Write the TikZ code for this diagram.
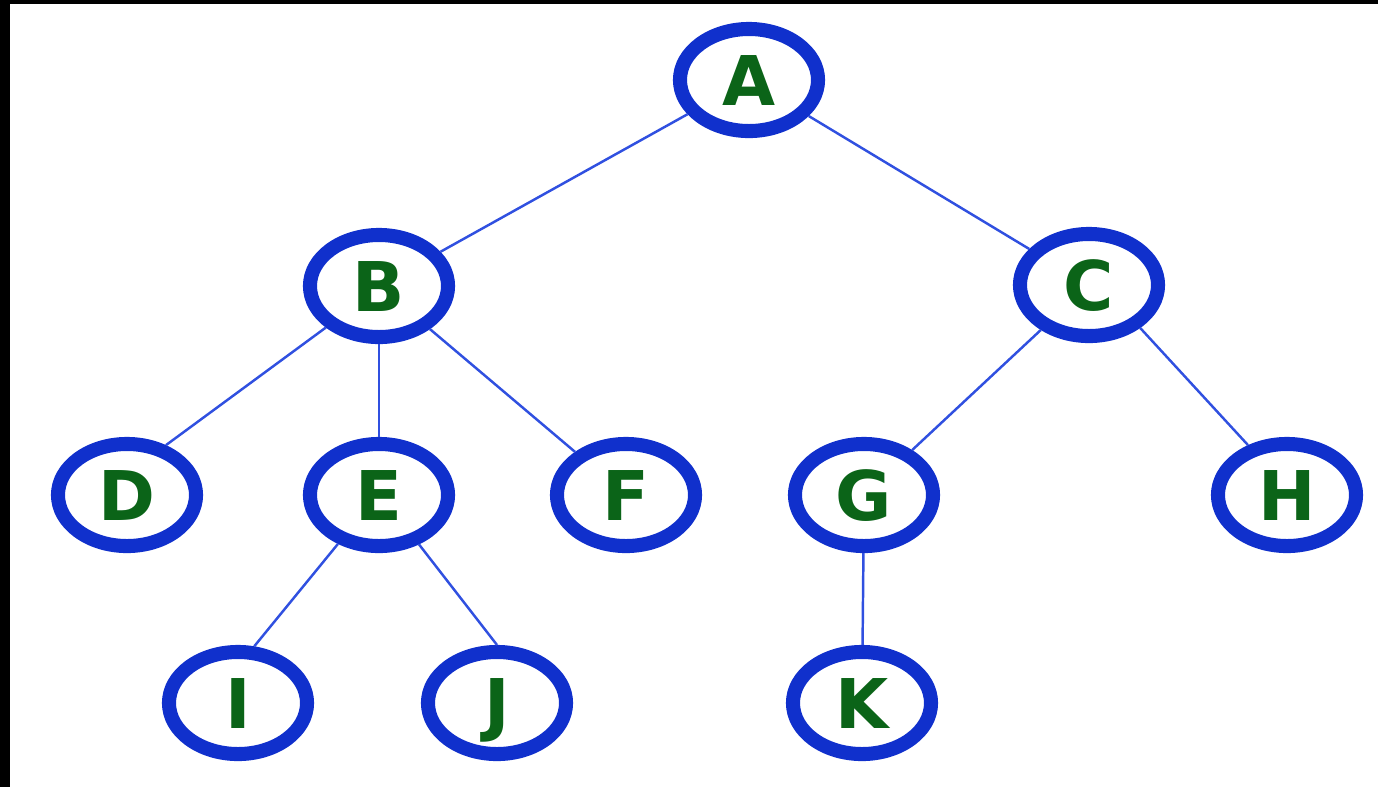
\documentclass[tikz,border=0pt]{standalone}
\usepackage{fontspec}
\setmainfont{DejaVu Sans}
\usepackage{xcolor}
\usetikzlibrary{shapes.geometric}
\definecolor{ringblue}{HTML}{1030CC}
\definecolor{edgeblue}{HTML}{3050E0}
\definecolor{lettergreen}{HTML}{0B6418}

\begin{document}
\begin{tikzpicture} [x=0.01cm, y=-0.01cm, every node/.style={ellipse, draw=ringblue, line width=4pt, minimum width=1.38cm, minimum height=1.02cm, inner sep=0pt, text=lettergreen, text height=0.5cm, text depth=0pt, font=\fontsize{19.5}{20}\selectfont\bfseries}]

        \useasboundingbox (0, 0) rectangle (1378, 787);
        \fill[black] (0, 0) rectangle (10, 787);
        \fill[black] (0, 0) rectangle (1378, 4);

        \node (A) at (749, 80) {A};

        \node (B) at (379, 286) {B};
        \node (C) at (1089, 285) {C};

        \node (D) at (127, 495) {D};
        \node (E) at (379, 495) {E};
        \node (F) at (626, 495) {F};
        \node (G) at (864, 495) {G};
        \node (H) at (1287, 495) {H};

        \node (I) at (238, 703) {I};
        \node (J) at (497, 703) {J};
        \node (K) at (862, 703) {K};

        \draw[edgeblue, line width=0.7pt] (A) -- (B);
        \draw[edgeblue, line width=0.7pt] (A) -- (C);
        \draw[edgeblue, line width=0.7pt] (B.218) -- (D.52);
        \draw[edgeblue, line width=0.7pt] (B) -- (E);
        \draw[edgeblue, line width=0.7pt] (B) -- (F);
        \draw[edgeblue, line width=0.7pt] (C) -- (G);
        \draw[edgeblue, line width=0.7pt] (C.-40) -- (H.128);
        \draw[edgeblue, line width=0.7pt] (E.230) -- (I.74);
        \draw[edgeblue, line width=0.7pt] (E.-51) -- (J.90);
        \draw[edgeblue, line width=0.7pt] (G) -- (K);
    \end{tikzpicture}
\end{document}
